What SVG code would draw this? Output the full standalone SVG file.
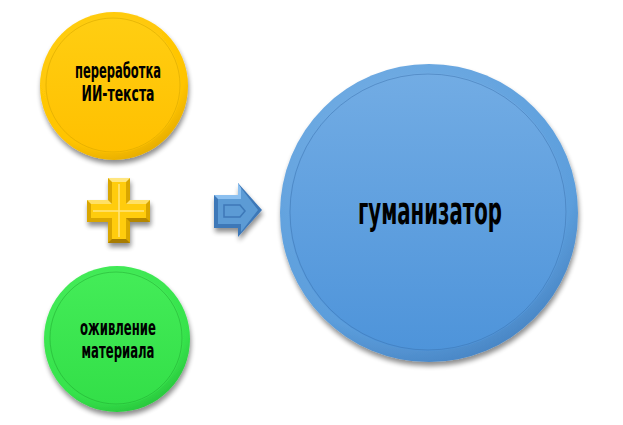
<svg xmlns="http://www.w3.org/2000/svg" width="623" height="425" viewBox="0 0 623 425">
<style>
.lbl{font-family:"DejaVu Sans Condensed","DejaVu Sans",sans-serif;font-weight:bold;fill:#000;text-anchor:middle}
.ring{fill:none;stroke-width:1}
</style>
<defs>
<radialGradient id="gy" cx="0.4" cy="0.3" r="0.8">
<stop offset="0" stop-color="#FFD21A"/><stop offset="0.75" stop-color="#FFC400"/><stop offset="1" stop-color="#D9A000"/>
</radialGradient>
<linearGradient id="gyi" x1="0" y1="0" x2="0" y2="1">
<stop offset="0" stop-color="#FFCE12"/><stop offset="1" stop-color="#FFC000"/>
</linearGradient>
<radialGradient id="gg" cx="0.4" cy="0.3" r="0.8">
<stop offset="0" stop-color="#4CF060"/><stop offset="0.75" stop-color="#36E34C"/><stop offset="1" stop-color="#22B834"/>
</radialGradient>
<linearGradient id="ggi" x1="0" y1="0" x2="0" y2="1">
<stop offset="0" stop-color="#44EC58"/><stop offset="1" stop-color="#33DF48"/>
</linearGradient>
<radialGradient id="gb" cx="0.4" cy="0.3" r="0.8">
<stop offset="0" stop-color="#7AB2E6"/><stop offset="0.75" stop-color="#5C9EDC"/><stop offset="1" stop-color="#3E78B8"/>
</radialGradient>
<linearGradient id="gbi" x1="0" y1="0" x2="0" y2="1">
<stop offset="0" stop-color="#72ACE4"/><stop offset="1" stop-color="#4E94DA"/>
</linearGradient>
<filter id="sh" x="-20%" y="-20%" width="140%" height="150%">
<feGaussianBlur in="SourceAlpha" stdDeviation="2.5"/>
<feOffset dx="1" dy="4" result="b"/>
<feComponentTransfer><feFuncA type="linear" slope="0.45"/></feComponentTransfer>
<feMerge><feMergeNode/><feMergeNode in="SourceGraphic"/></feMerge>
</filter>
</defs>
<rect width="623" height="425" fill="#fff"/>

<g id="node-pererabotka">
<circle cx="114" cy="86" r="74" fill="url(#gy)" filter="url(#sh)"/>
<circle cx="113" cy="85" r="68" fill="url(#gyi)"/>
<circle cx="113" cy="85" r="67" class="ring" stroke="#D8A800" stroke-opacity="0.6"/>
<text class="lbl" x="118" y="78" font-size="21" textLength="86" lengthAdjust="spacingAndGlyphs">переработка</text>
<text class="lbl" x="118" y="101" font-size="21" textLength="73" lengthAdjust="spacingAndGlyphs">ИИ-текста</text>
</g>

<g id="node-ozhivlenie">
<circle cx="117" cy="339" r="73" fill="url(#gg)" filter="url(#sh)"/>
<circle cx="116" cy="338" r="67" fill="url(#ggi)"/>
<circle cx="116" cy="338" r="66" class="ring" stroke="#20A830" stroke-opacity="0.5"/>
<text class="lbl" x="118" y="335" font-size="21" textLength="76" lengthAdjust="spacingAndGlyphs">оживление</text>
<text class="lbl" x="118" y="358" font-size="21" textLength="73" lengthAdjust="spacingAndGlyphs">материала</text>
</g>

<g id="node-gumanizator">
<circle cx="429" cy="213" r="149" fill="url(#gb)" filter="url(#sh)"/>
<circle cx="428" cy="212" r="139" fill="url(#gbi)"/>
<circle cx="428" cy="212" r="138" class="ring" stroke="#3A72AE" stroke-opacity="0.5"/>
<text class="lbl" x="430" y="224" font-size="37" textLength="144" lengthAdjust="spacingAndGlyphs">гуманизатор</text>
</g>

<g id="connectors">
<g id="plus" filter="url(#sh)">
<polygon points="108,178 130,178 130,200 150,200 150,222 130,222 130,243 108,243 108,222 87,222 87,200 108,200" fill="#D9A600"/>
<polygon points="108,178 130,178 126,182 112,182" fill="#FFE680"/>
<polygon points="87,200 108,200 112,204 91,204" fill="#FFE066"/>
<polygon points="130,200 150,200 146,204 126,204" fill="#FFE066"/>
<polygon points="112,182 126,182 126,204 146,204 146,218 126,218 126,239 112,239 112,218 91,218 91,204 112,204" fill="#FFCC10"/>
<polygon points="130,222 150,222 146,218 126,218" fill="#B58700"/>
<polygon points="108,243 130,243 126,239 112,239" fill="#A87C00"/>
<line x1="119" y1="184" x2="119" y2="237" stroke="#FFE680" stroke-width="1.5"/>
<line x1="93" y1="211" x2="144" y2="211" stroke="#FFE680" stroke-width="1.5"/>
</g>
<g id="arrow" filter="url(#sh)">
<polygon points="214,195 238,195 238,183 262,210 238,237 238,228 214,228" fill="#3E78B8"/>
<polygon points="214,195 238,195 238,183 241,188 241,199 218,199" fill="#8CC0F0"/>
<polygon points="218,199 241,199 241,188 258,210 241,232 241,224 218,224" fill="#5B9BD5"/>
<polygon points="224,205 240,205 245,211 240,217 224,217" fill="none" stroke="#3E78B8" stroke-width="1.5"/>
</g>
</g>
</svg>
